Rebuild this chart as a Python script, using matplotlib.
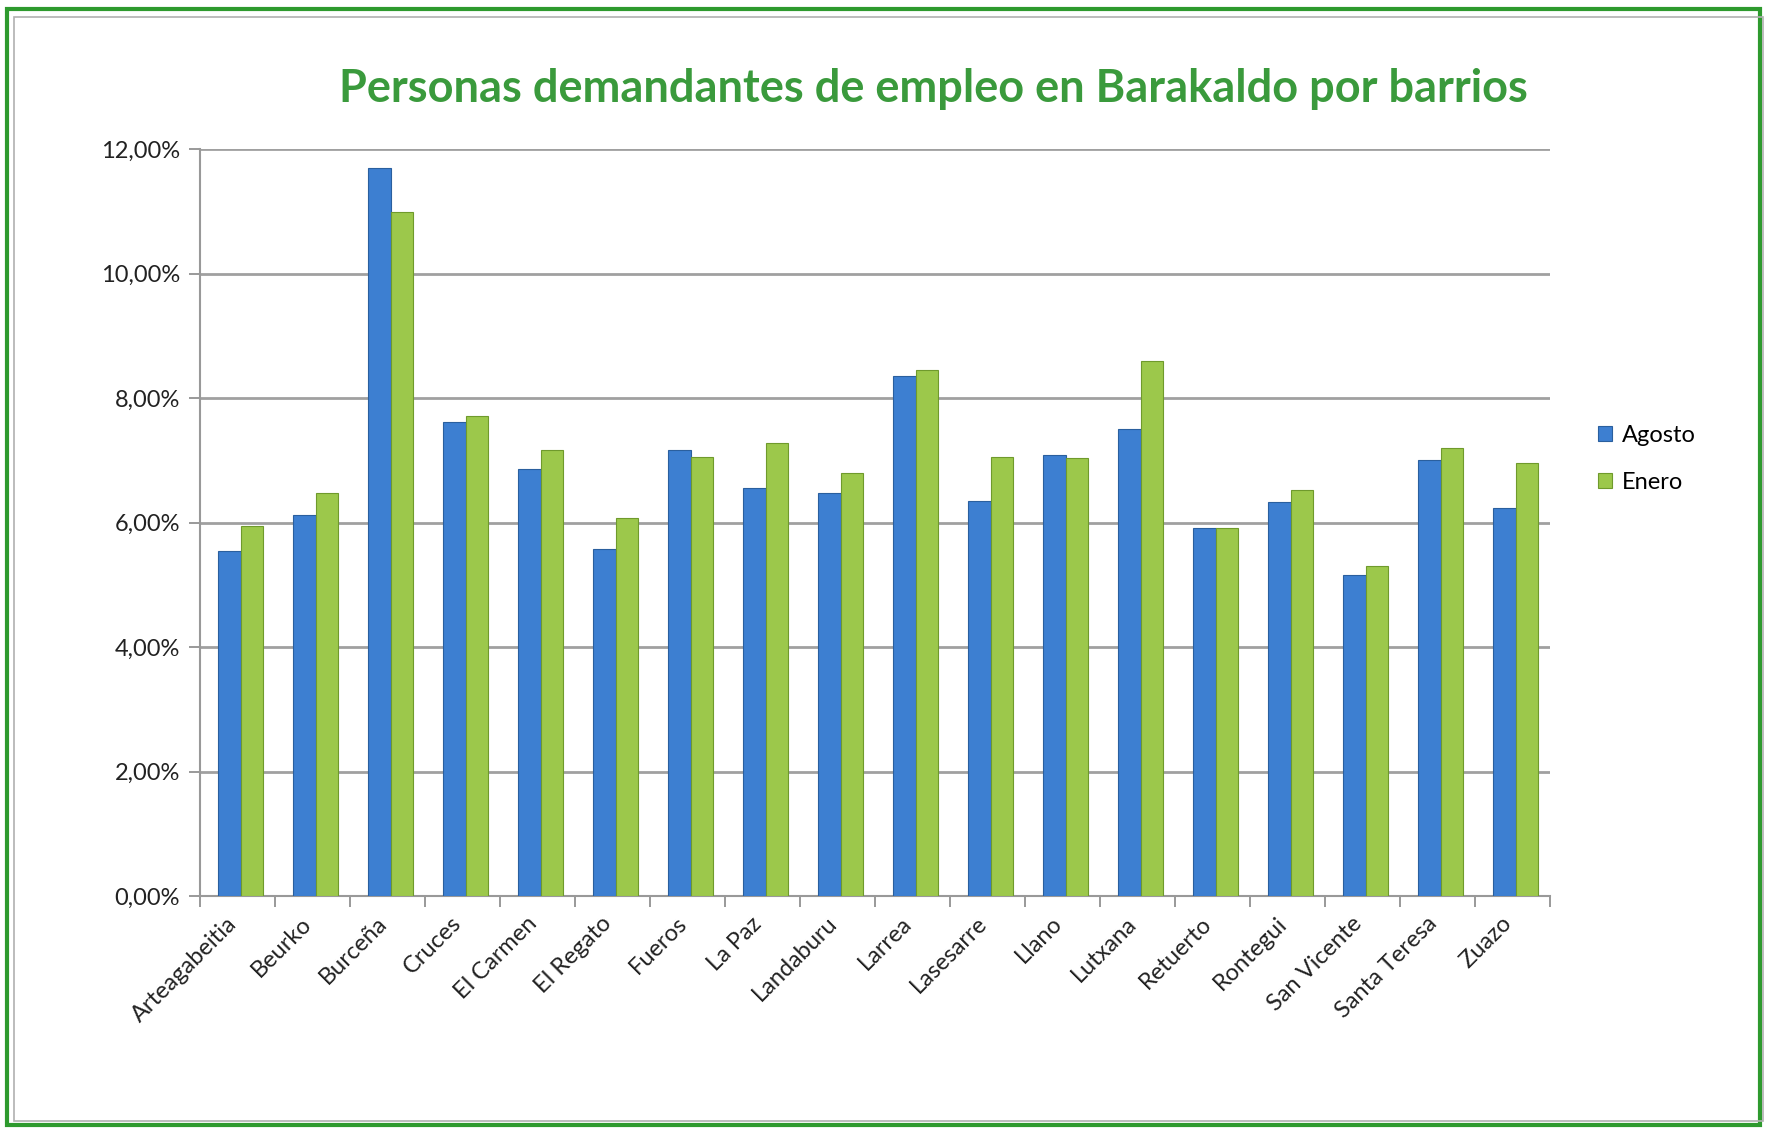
import numpy as np
import matplotlib.pyplot as plt
from matplotlib.ticker import FuncFormatter
from matplotlib.patches import Rectangle

plt.rcParams['font.family'] = ['Lato', 'DejaVu Sans']

barrios = ['Arteagabeitia', 'Beurko', 'Burceña', 'Cruces', 'El Carmen', 'El Regato',
           'Fueros', 'La Paz', 'Landaburu', 'Larrea', 'Lasesarre', 'Llano', 'Lutxana',
           'Retuerto', 'Rontegui', 'San Vicente', 'Santa Teresa', 'Zuazo']
agosto = [5.54, 6.12, 11.69, 7.62, 6.86, 5.57, 7.17, 6.55, 6.48, 8.36, 6.35, 7.08,
          7.51, 5.92, 6.33, 5.16, 7.00, 6.23]
enero = [5.94, 6.48, 10.99, 7.71, 7.17, 6.08, 7.06, 7.28, 6.79, 8.45, 7.06, 7.04,
         8.60, 5.92, 6.52, 5.30, 7.20, 6.95]
yticks = [0, 2, 4, 6, 8, 10, 12]

fig = plt.figure(figsize=(17.67, 11.3), dpi=100)
ax = fig.add_axes([0.113, 0.207, 0.764, 0.661])

x = np.arange(len(barrios))
w = 0.3
ax.bar(x - w / 2 + 0.05, agosto, w, color='#3d7fd1', edgecolor='#2a5f9e', linewidth=0.8,
       label='Agosto', zorder=3)
ax.bar(x + w / 2 + 0.05, enero, w, color='#9cc84b', edgecolor='#6f9a2c', linewidth=0.8,
       label='Enero', zorder=3)

ax.set_xlim(-0.5, len(barrios) - 0.5)
ax.set_ylim(0, 12)
ax.set_yticks(yticks)
ax.yaxis.set_major_formatter(FuncFormatter(lambda v, p: ('%.2f%%' % v).replace('.', ',')))
ax.grid(axis='y', color='#a0a0a0', linewidth=2, zorder=0)
ax.set_axisbelow(True)

# ticks between categories
ax.set_xticks(np.arange(len(barrios) + 1) - 0.5)
ax.set_xticklabels([])
ax.set_xticks(x - 0.15, minor=True)
ax.set_xticklabels(barrios, minor=True, rotation=45, ha='right', rotation_mode='anchor',
                   fontsize=17, color='#222222')
ax.tick_params(axis='x', which='minor', length=0, pad=12)
ax.tick_params(axis='x', which='major', length=8, color='#888888', width=1.2)
ax.tick_params(axis='y', length=8, color='#888888', width=1.2, labelsize=17,
               labelcolor='#222222', pad=6)

for s in ['top', 'right']:
    ax.spines[s].set_visible(False)
for s in ['left', 'bottom']:
    ax.spines[s].set_color('#999999')
    ax.spines[s].set_linewidth(1.5)

fig.text(0.528, 0.921, 'Personas demandantes de empleo en Barakaldo por barrios',
         ha='center', va='center', fontsize=32.5, fontweight='bold', color='#3a9a3c')

ax.legend(loc='center left', bbox_to_anchor=(1.02, 0.585), frameon=False, fontsize=17,
          handlelength=0.6, handleheight=0.6, handletextpad=0.4, labelspacing=1.1)

fig.patches.append(Rectangle((0.004, 0.004), 0.992, 0.988, transform=fig.transFigure,
                             fill=False, edgecolor='#2e9a2e', linewidth=3))
fig.patches.append(Rectangle((0.008, 0.008), 0.99, 0.977, transform=fig.transFigure,
                             fill=False, edgecolor='#b0b0b0', linewidth=1.2))

plt.savefig('out.png', dpi=100)
